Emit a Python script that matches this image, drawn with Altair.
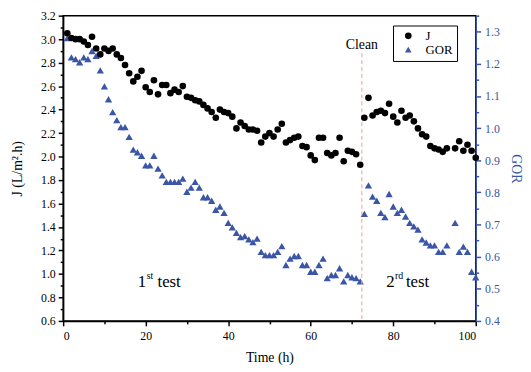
import altair as alt
import pandas as pd

# ---------------- data ----------------
hours = list(range(1, 101))

J = [3.05, 3.01, 3.00, 3.00, 2.98, 2.95, 3.02, 2.92, 2.87, 2.92,
     2.90, 2.92, 2.87, 2.84, 2.78, 2.71, 2.64, 2.68, 2.73, 2.59,
     2.55, 2.65, 2.53, 2.61, 2.61, 2.54, 2.57, 2.55, 2.60, 2.51,
     2.50, 2.48, 2.47, 2.44, 2.41, 2.38, 2.33, 2.40, 2.38, 2.37,
     2.34, 2.24, 2.29, 2.26, 2.23, 2.23, 2.22, 2.12, 2.17, 2.20,
     2.17, 2.23, 2.28, 2.12, 2.14, 2.16, 2.17, 2.09, 2.08, 2.01,
     1.97, 2.16, 2.16, 2.03, 2.01, 2.03, 2.16, 1.96, 2.05, 2.04,
     2.02, 1.93, 2.33, 2.50, 2.35, 2.38, 2.39, 2.37, 2.45, 2.34,
     2.29, 2.39, 2.33, 2.35, 2.30, 2.24, 2.19, 2.17, 2.09, 2.07,
     2.06, 2.04, 2.07, None, 2.07, 2.13, 2.05, 2.10, 2.05, 1.99]

GOR = [1.28, 1.22, 1.215, 1.205, 1.22, 1.215, 1.24, 1.225, 1.18, 1.13,
       1.09, 1.05, 1.025, 1.003, 1.003, 0.973, 0.933, 0.925, 0.914, 0.884,
       0.884, 0.914, 0.874, 0.853, 0.833, 0.833, 0.833, 0.833, 0.843, 0.802,
       0.815, 0.833, 0.815, 0.785, 0.785, 0.774, 0.746, 0.756, 0.736, 0.705,
       0.691, 0.674, 0.661, 0.664, 0.654, 0.645, 0.656, 0.615, 0.605, 0.605,
       0.605, 0.615, 0.633, 0.574, 0.594, 0.602, 0.602, 0.574, 0.574, 0.553,
       0.553, 0.574, 0.594, 0.533, 0.543, 0.543, 0.564, 0.523, 0.543, 0.536,
       0.533, 0.523, 0.733, 0.822, 0.787, 0.774, 0.736, 0.723, 0.795, 0.756,
       0.736, 0.746, 0.725, 0.705, 0.694, 0.684, 0.654, 0.644, 0.635, 0.635,
       0.615, 0.615, 0.635, None, 0.705, 0.615, 0.631, 0.615, 0.553, 0.536]

series_names = ["J", "GOR"]

x_ticks = [0, 10, 20, 30, 40, 50, 60, 70, 80, 90, 100]
j_ticks = [0.6, 0.7, 0.8, 0.9, 1.0, 1.1, 1.2, 1.3, 1.4, 1.5, 1.6, 1.7, 1.8,
           1.9, 2.0, 2.1, 2.2, 2.3, 2.4, 2.5, 2.6, 2.7, 2.8, 2.9, 3.0, 3.1, 3.2]
gor_ticks = [0.4, 0.45, 0.5, 0.55, 0.6, 0.65, 0.7, 0.75, 0.8, 0.85, 0.9, 0.95,
             1.0, 1.05, 1.1, 1.15, 1.2, 1.25, 1.3, 1.35]

clean_hour = [72.4]
clean_top = [2.88]
clean_bottom = [0.6]
clean_label_y = [2.913]
clean_label = ["Clean"]

test_hours = [18.1, 78.3]
test_y = [0.89, 0.89]
test_number = ["1", "2"]
test_suffix = ["st", "rd"]
test_word = ["test", "test"]

# ---------------- styling ----------------
FONT = "Liberation Serif"
BLUE = "#3b55a7"

dfJ = pd.DataFrame({"hour": hours, "value": J, "series": "J"}).dropna()
dfG = pd.DataFrame({"hour": hours, "value": GOR, "series": "GOR"}).dropna()
dfClean = pd.DataFrame({"x": clean_hour, "y1": clean_top, "y2": clean_bottom,
                        "ly": clean_label_y, "t": clean_label})
dfTest = pd.DataFrame({"x": test_hours, "y": test_y, "n": test_number,
                       "s": test_suffix, "w": test_word})

xscale = alt.Scale(domain=[0, 100], nice=False, zero=False)
jscale = alt.Scale(domain=[0.6, 3.2], nice=False, zero=False)
gscale = alt.Scale(domain=[0.4, 1.35], nice=False, zero=False)

common = dict(labelFont=FONT, titleFont=FONT, labelFontSize=12, titleFontSize=14,
              titleFontWeight="normal")

xaxis = alt.Axis(
    values=x_ticks, title="Time (h)", orient="bottom",
    labelExpr="datum.value % 20 == 0 ? datum.label : ''",
    tickSize=alt.condition("datum.value % 20 == 0", alt.value(5), alt.value(3)),
    labelPadding=5,
    titleX=209.5, titleY=41, titleBaseline="alphabetic",
    domainColor="black", tickColor="black", labelColor="black", titleColor="black",
    **common,
)
jaxis = alt.Axis(
    values=j_ticks, title="J (L/m².h)", orient="left", format=".1f",
    labelExpr="round(datum.value*10) % 2 == 0 ? datum.label : ''",
    tickSize=alt.condition("round(datum.value*10) % 2 == 0", alt.value(5), alt.value(3)),
    labelPadding=3,
    titleX=-46, titleY=155, titleAngle=-90, titleBaseline="middle", titleAlign="center",
    domainColor="black", tickColor="black", labelColor="black", titleColor="black",
    **common,
)
gaxis = alt.Axis(
    values=gor_ticks, title="GOR", orient="right", format=".1f",
    labelExpr="round(datum.value*20) % 2 == 0 ? datum.label : ''",
    tickSize=alt.condition("round(datum.value*20) % 2 == 0", alt.value(5), alt.value(3)),
    labelPadding=4,
    titleX=40, titleY=155, titleAngle=90, titleBaseline="middle", titleAlign="center",
    domainColor=BLUE, tickColor=BLUE, labelColor=BLUE, titleColor=BLUE,
    **common,
)

legend = alt.Legend(
    title=None, orient="none", legendX=335, legendY=10,
    strokeColor="black", fillColor="white", padding=4,
    labelFont=FONT, labelFontSize=13, labelColor="black", labelOffset=11,
    symbolSize=45, symbolStrokeWidth=0, rowPadding=0, symbolOffset=5,
)
color = alt.Color("series:N",
                  scale=alt.Scale(domain=series_names, range=["#000000", BLUE]),
                  legend=legend)
shape = alt.Shape("series:N",
                  scale=alt.Scale(domain=series_names, range=["circle", "triangle-up"]),
                  legend=legend)

X = lambda f: alt.X(f, scale=xscale, axis=xaxis)
YJ = lambda f: alt.Y(f, scale=jscale, axis=jaxis)

jpts = alt.Chart(dfJ).mark_point(filled=True, size=45, opacity=1).encode(
    x=X("hour:Q"), y=YJ("value:Q"), color=color, shape=shape)

rule = alt.Chart(dfClean).mark_rule(color="#f29a9a", strokeDash=[4, 3], strokeWidth=1).encode(
    x=X("x:Q"), y=YJ("y1:Q"), y2="y2:Q")

clean_txt = alt.Chart(dfClean).mark_text(font=FONT, fontSize=14, align="center",
                                         baseline="alphabetic", color="black").encode(
    x=X("x:Q"), y=YJ("ly:Q"), text="t:N")

tnum = alt.Chart(dfTest).mark_text(font=FONT, fontSize=17, align="left",
                                   baseline="alphabetic", color="black").encode(
    x=X("x:Q"), y=YJ("y:Q"), text="n:N")
tsuf = alt.Chart(dfTest).mark_text(font=FONT, fontSize=10, align="left",
                                   baseline="alphabetic", color="black", dx=9, dy=-8).encode(
    x=X("x:Q"), y=YJ("y:Q"), text="s:N")
tword = alt.Chart(dfTest).mark_text(font=FONT, fontSize=17, align="left",
                                    baseline="alphabetic", color="black", dx=20).encode(
    x=X("x:Q"), y=YJ("y:Q"), text="w:N")

left = alt.layer(rule, jpts, clean_txt, tnum, tsuf, tword)

gpts = alt.Chart(dfG).mark_point(filled=True, size=55, opacity=1).encode(
    x=X("hour:Q"), y=alt.Y("value:Q", scale=gscale, axis=gaxis),
    color=color, shape=shape)

chart = alt.layer(gpts, left).resolve_scale(y="independent").properties(
    width=419, height=310,
    autosize=alt.AutoSizeParams(type="none"),
    padding={"left": 56, "top": 5, "right": 48, "bottom": 44},
    background="white",
).configure(font=FONT).configure_view(stroke="black", strokeWidth=1.5).configure_axis(
    domainWidth=1.5, tickWidth=1.5, grid=False, labelFont=FONT, titleFont=FONT,
    titleFontWeight="normal",
).configure_text(font=FONT).configure_legend(labelFont=FONT)

chart.save("out.html", embed_options={"renderer": "svg", "actions": False})
